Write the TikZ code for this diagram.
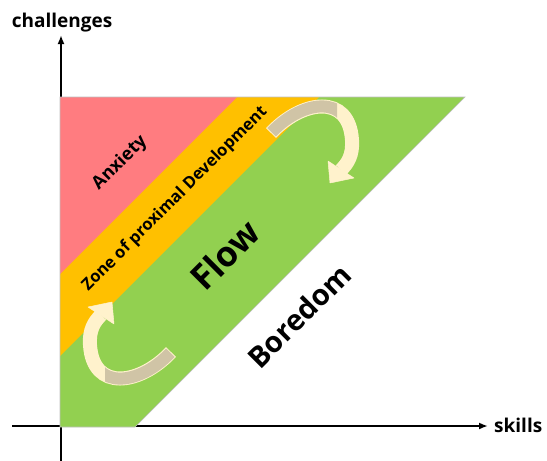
\documentclass[tikz,border=0pt]{standalone}
\usepackage{fontspec}
\setmainfont{Open Sans}
\usetikzlibrary{arrows.meta}
\definecolor{anxietyred}{HTML}{FF7C80}
\definecolor{zpdorange}{HTML}{FFC000}
\definecolor{flowgreen}{HTML}{92D050}
\definecolor{arrowcream}{HTML}{FFF2CC}
\definecolor{arrowtan}{HTML}{D0C4A6}
\tikzset{
  axis/.style={line width=2pt,-{Latex[length=9pt,width=7pt]}},
  axislabel/.style={font=\bfseries\fontsize{#1}{#1}\selectfont,inner sep=0pt},
  zonelabel/.style={font=\bfseries\fontsize{#1}{#1}\selectfont,rotate=45,inner sep=0pt},
}
\newcommand{\flowarrow}{%
  \draw[arrowcream,line width=14pt] (171,352) .. controls (140,385) and (93,392) .. (90,345)
    .. controls (89,330) and (94,322) .. (101,315);
  \begin{scope}
    \clip (105,330) rectangle (190,400);
    \draw[arrowtan,line width=12pt,shorten <=1pt] (171,352) .. controls (140,385) and (93,392) .. (90,345);
  \end{scope}
  \filldraw[arrowcream,line width=0.5pt,line join=round] (112,302) -- (88,307) -- (114,324) -- cycle;
}

\begin{document}
\begin{tikzpicture}[x=1pt,y=-1pt]
    \useasboundingbox (0,0) rectangle (547,461);
    \coordinate (ybot) at (61,461);
    \coordinate (ytop) at (61,35);
    \coordinate (xleft) at (12,426);
    \coordinate (xright) at (488,426);
    \draw [axis] (ybot) -- (ytop);
    \draw [axis] (xleft) -- (xright);
    \node [axislabel=19, anchor=base] (challenges) at (62,27) {challenges};
    \node [axislabel=19, anchor=base west] (skills) at (494,432) {skills};
    \fill [flowgreen] (60,97) -- (465,97) -- (135,427) -- (60,427) -- cycle;
    \fill [zpdorange] (60,97) -- (319,97) -- (60,356) -- cycle;
    \fill [anxietyred] (60,97) -- (237,97) -- (60,274) -- cycle;
    \draw [black!25, line width=0.6pt] (60,97) -- (465,97) -- (135,427) -- (60,427) -- cycle;
    \flowarrow
    \begin{scope}[rotate around={180:(221,242.5)}]
      \flowarrow
    \end{scope}
    \node [zonelabel=18] (anxiety) at (120,163) {Anxiety};
    \node [zonelabel=16.5] (zpd) at (175,199) {Zone of proximal Development};
    \node [zonelabel=35] (flow) at (225,255) {Flow};
    \node [zonelabel=29] (boredom) at (299,316) {Boredom};
\end{tikzpicture}
\end{document}
